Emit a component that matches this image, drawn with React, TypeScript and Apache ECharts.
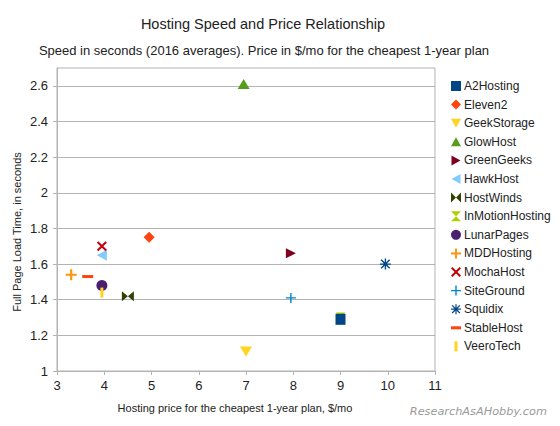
import React, { useEffect, useRef } from "react";
import * as echarts from "echarts";

const hosts = [
  "A2Hosting", "Eleven2", "GeekStorage", "GlowHost", "GreenGeeks",
  "HawkHost", "HostWinds", "InMotionHosting", "LunarPages", "MDDHosting",
  "MochaHost", "SiteGround", "Squidix", "StableHost", "VeeroTech",
];
const prices = [9, 4.95, 7, 6.95, 7.95, 3.95, 4.5, 9, 3.95, 3.3, 3.95, 7.95, 9.95, 3.65, 3.95];
const loadTimes = [1.29, 1.75, 1.11, 2.61, 1.66, 1.65, 1.42, 1.3, 1.48, 1.54, 1.7, 1.41, 1.6, 1.53, 1.44];
const yTicks = [1, 1.2, 1.4, 1.6, 1.8, 2, 2.2, 2.4, 2.6];

const colors = [
  "#004586", "#ff420e", "#ffd320", "#579d1c", "#7e0021",
  "#83caff", "#314004", "#aecf00", "#4b1f6f", "#ff950e",
  "#c5000b", "#0084d1", "#004586", "#ff420e", "#ffd320",
];
const plus = "path://M4,0 H6 V4 H10 V6 H6 V10 H4 V6 H0 V4 H4 Z";
const thinPlus = "path://M4.3,0 H5.7 V4.3 H10 V5.7 H5.7 V10 H4.3 V5.7 H0 V4.3 H4.3 Z";
const asterisk =
  "path://M4.4,0 H5.6 V10 H4.4 Z M0,4.4 H10 V5.6 H0 Z M1.6,0.7 L9.3,8.4 L8.4,9.3 L0.7,1.6 Z M8.4,0.7 L9.3,1.6 L1.6,9.3 L0.7,8.4 Z";
const symbols: any[] = [
  "rect", "diamond", "path://M0,0 L10,0 L5,9 Z", "path://M5,0 L10,9 L0,9 Z", "path://M0,0 L9,5 L0,10 Z",
  "path://M9,0 L0,5 L9,10 Z", "path://M0,0 L5,5 L0,10 Z M10,0 L5,5 L10,10 Z", "path://M0,0 L10,0 L5,5 Z M0,10 L10,10 L5,5 Z", "circle", plus,
  "path://M1.4,0 L5,3.6 L8.6,0 L10,1.4 L6.4,5 L10,8.6 L8.6,10 L5,6.4 L1.4,10 L0,8.6 L3.6,5 L0,1.4 Z", thinPlus, asterisk,
  "path://M0,0 H10 V3 H0 Z", "path://M0,0 H3 V10 H0 Z",
];
const sizes: any[] = [
  [10, 11], 11, [12, 10], [12, 10], [10, 10],
  [10, 11], [12, 10], [10, 10], 11, 11,
  10, 10, 11, [11, 3], [3, 10],
];

export default function App() {
  const ref = useRef<HTMLDivElement>(null);
  useEffect(() => {
    if (!ref.current) return;
    const chart = echarts.init(ref.current, null, { renderer: "svg" });
    const series = hosts.map((name, i) => ({
      name,
      type: "scatter",
      data: [[prices[i], loadTimes[i]]],
      symbol: symbols[i],
      symbolSize: sizes[i],
      itemStyle: { color: colors[i], opacity: 1 },
      z: i === 0 ? 5 : 3,
    }));
    chart.setOption({
      animation: false,
      backgroundColor: "#ffffff",
      textStyle: { fontFamily: "Liberation Sans" },
      title: [
        {
          text: "Hosting Speed and Price Relationship",
          left: 258,
          top: 11,
          textAlign: "center",
          textStyle: { fontSize: 14.5, fontWeight: "normal", color: "#222", fontFamily: "Liberation Sans" },
        },
        {
          text: "Speed in seconds (2016 averages). Price in $/mo for the cheapest 1-year plan",
          left: 259,
          top: 39,
          textAlign: "center",
          textStyle: { fontSize: 13, fontWeight: "normal", color: "#222", fontFamily: "Liberation Sans" },
        },
      ],
      legend: {
        orient: "vertical",
        left: 446,
        top: 74,
        itemWidth: 10,
        itemHeight: 10,
        itemGap: 4.6,
        symbolKeepAspect: true,
        textStyle: { fontSize: 12, color: "#222", lineHeight: 14, padding: [0, 0, 0, -2] },
        data: hosts,
      },
      grid: {
        left: 57,
        right: 125,
        top: 68,
        bottom: 55,
        show: true,
        borderColor: "#b3b3b3",
        borderWidth: 1,
      },
      xAxis: {
        type: "value",
        min: 3,
        max: 11,
        interval: 1,
        axisLine: { show: true, lineStyle: { color: "#b3b3b3" } },
        axisTick: { show: true, length: 4, lineStyle: { color: "#b3b3b3" } },
        splitLine: { show: false },
        axisLabel: { fontSize: 13, color: "#222", margin: 8 },
      },
      yAxis: {
        type: "value",
        min: 1,
        max: 2.7,
        interval: 0.2,
        axisLine: { show: true, lineStyle: { color: "#b3b3b3" } },
        axisTick: { show: true, length: 4, lineStyle: { color: "#b3b3b3" }, customValues: yTicks },
        splitLine: { show: true, lineStyle: { color: "#b3b3b3" } },
        axisLabel: {
          fontSize: 13,
          color: "#222",
          margin: 9,
          customValues: yTicks,
          formatter: (v: number) => String(Math.round(v * 10) / 10),
        },
      },
      graphic: [
        {
          type: "text",
          x: 17,
          y: 232,
          rotation: Math.PI / 2,
          style: {
            text: "Full Page Load Time, in seconds",
            fontSize: 11,
            fill: "#222",
            fontFamily: "Liberation Sans",
            textAlign: "center",
            textVerticalAlign: "middle",
          },
        },
        {
          type: "text",
          x: 235,
          y: 408,
          style: {
            text: "Hosting price for the cheapest 1-year plan, $/mo",
            fontSize: 11,
            fill: "#222",
            fontFamily: "Liberation Sans",
            textAlign: "center",
            textVerticalAlign: "middle",
          },
        },
        {
          type: "text",
          x: 547,
          y: 411,
          style: {
            text: "ResearchAsAHobby.com",
            fontSize: 11.3,
            fontStyle: "italic",
            fill: "#9a9a9a",
            fontFamily: "DejaVu Sans",
            textAlign: "right",
            textVerticalAlign: "middle",
          },
        },
      ],
      series,
    });
    return () => chart.dispose();
  }, []);
  return (
    <div
      ref={ref}
      style={{ position: "absolute", left: 0, top: 0, width: 560, height: 426 }}
    />
  );
}
